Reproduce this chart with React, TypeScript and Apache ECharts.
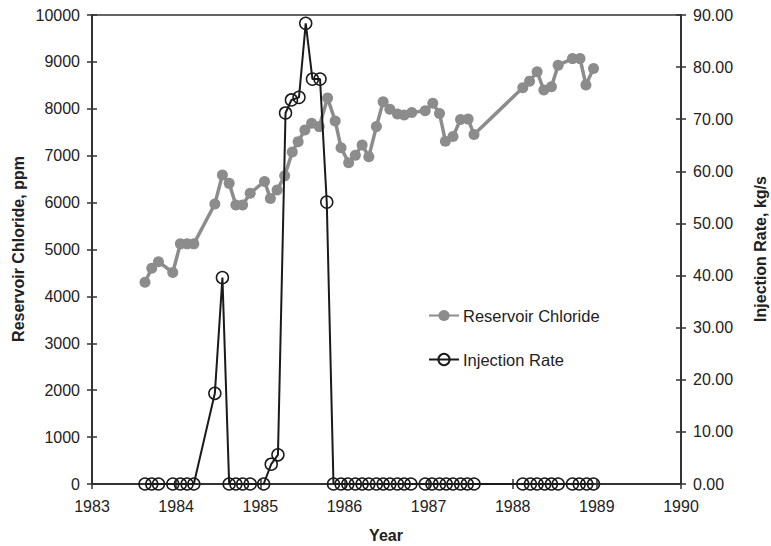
import React, { useEffect, useRef } from "react";
import * as echarts from "echarts";

const chlorideYears = [1983.63, 1983.71, 1983.79, 1983.96, 1984.05, 1984.13, 1984.21, 1984.46, 1984.55, 1984.63, 1984.71, 1984.79, 1984.88, 1985.05, 1985.12, 1985.2, 1985.29, 1985.38, 1985.45, 1985.53, 1985.61, 1985.7, 1985.8, 1985.89, 1985.96, 1986.05, 1986.13, 1986.21, 1986.29, 1986.38, 1986.46, 1986.54, 1986.63, 1986.71, 1986.8, 1986.96, 1987.05, 1987.13, 1987.2, 1987.29, 1987.38, 1987.47, 1987.54, 1988.12, 1988.2, 1988.29, 1988.37, 1988.46, 1988.54, 1988.71, 1988.8, 1988.87, 1988.96];
const chlorideValues = [4300, 4600, 4740, 4510, 5120, 5120, 5120, 5970, 6590, 6410, 5950, 5950, 6200, 6450, 6090, 6270, 6570, 7080, 7300, 7550, 7690, 7620, 8230, 7740, 7170, 6850, 7010, 7230, 6980, 7620, 8150, 7990, 7890, 7870, 7920, 7960, 8120, 7900, 7310, 7410, 7770, 7780, 7450, 8450, 8590, 8790, 8400, 8470, 8930, 9070, 9070, 8510, 8860];

const injectionYears = [1983.63, 1983.71, 1983.79, 1983.96, 1984.05, 1984.13, 1984.21, 1984.46, 1984.55, 1984.63, 1984.71, 1984.79, 1984.88, 1985.04, 1985.13, 1985.21, 1985.3, 1985.37, 1985.46, 1985.54, 1985.62, 1985.71, 1985.79, 1985.87, 1985.96, 1986.04, 1986.13, 1986.21, 1986.29, 1986.38, 1986.46, 1986.54, 1986.63, 1986.71, 1986.79, 1986.96, 1987.04, 1987.13, 1987.21, 1987.29, 1987.38, 1987.46, 1987.54, 1988.12, 1988.21, 1988.29, 1988.38, 1988.46, 1988.54, 1988.71, 1988.79, 1988.88, 1988.96];
const injectionValues = [0, 0, 0, 0, 0, 0, 0, 17.4, 39.6, 0, 0, 0, 0, 0, 3.8, 5.6, 71.2, 73.7, 74.2, 88.4, 77.7, 77.7, 54.1, 0, 0, 0, 0, 0, 0, 0, 0, 0, 0, 0, 0, 0, 0, 0, 0, 0, 0, 0, 0, 0, 0, 0, 0, 0, 0, 0, 0, 0, 0];

const xMin = 1983;
const xMax = 1990;
const leftMax = 10000;
const rightMax = 90;

const FONT = "'Liberation Sans', Arial, sans-serif";
const AXIS_COLOR = "#333";
const TEXT_COLOR = "#222";

export default function App() {
  const ref = useRef<HTMLDivElement>(null);
  useEffect(() => {
    document.body.style.margin = "0";
    if (!ref.current) return;
    const chart = echarts.init(ref.current, null, { renderer: "svg" });
    const lbl = { color: TEXT_COLOR, fontFamily: FONT, fontSize: 16 };
    const tickInside = { show: true, inside: true, length: 5, lineStyle: { color: AXIS_COLOR, width: 1.5 } };
    const tickOutside = { show: true, inside: false, length: 5, lineStyle: { color: AXIS_COLOR, width: 1.5 } };
    chart.setOption({
      animation: false,
      backgroundColor: "#fff",
      textStyle: { fontFamily: FONT },
      grid: {
        left: 92,
        right: 90,
        top: 15,
        bottom: 62,
        show: true,
        borderColor: AXIS_COLOR,
        borderWidth: 1.5,
        backgroundColor: "transparent",
      },
      legend: {
        orient: "vertical",
        left: 423,
        top: 302,
        itemWidth: 30,
        itemHeight: 14,
        itemGap: 27,
        textStyle: { ...lbl, fontSize: 16.5, padding: [0, 0, 0, -1] },
        data: ["Reservoir Chloride", "Injection Rate"],
      },
      xAxis: [
        {
          type: "value",
          min: xMin,
          max: xMax,
          interval: 1,
          axisLine: { show: true, lineStyle: { color: AXIS_COLOR, width: 2 } },
          axisTick: tickOutside,
          axisLabel: { ...lbl, margin: 14, formatter: (v: number) => String(v) },
          splitLine: { show: false },
        },
        {
          type: "value",
          position: "bottom",
          min: xMin,
          max: xMax,
          interval: 1,
          axisLine: { show: false },
          axisTick: tickInside,
          axisLabel: { show: false },
          splitLine: { show: false },
        },
      ],
      yAxis: [
        {
          type: "value",
          position: "left",
          min: 0,
          max: leftMax,
          interval: 1000,
          axisLine: { show: true, lineStyle: { color: AXIS_COLOR, width: 2 } },
          axisTick: tickOutside,
          axisLabel: { ...lbl, margin: 12, formatter: (v: number) => String(v) },
          splitLine: { show: false },
        },
        {
          type: "value",
          position: "right",
          min: 0,
          max: rightMax,
          interval: 10,
          axisLine: { show: true, lineStyle: { color: AXIS_COLOR, width: 2 } },
          axisTick: tickOutside,
          axisLabel: { ...lbl, margin: 12, formatter: (v: number) => v.toFixed(2) },
          splitLine: { show: false },
        },
        {
          type: "value",
          position: "left",
          min: 0,
          max: leftMax,
          interval: 1000,
          axisLine: { show: false },
          axisTick: tickInside,
          axisLabel: { show: false },
          splitLine: { show: false },
        },
        {
          type: "value",
          position: "right",
          min: 0,
          max: rightMax,
          interval: 10,
          axisLine: { show: false },
          axisTick: tickInside,
          axisLabel: { show: false },
          splitLine: { show: false },
        },
      ],
      graphic: [
        {
          type: "text",
          x: 18,
          y: 249,
          rotation: Math.PI / 2,
          style: {
            text: "Reservoir Chloride, ppm",
            fill: TEXT_COLOR,
            font: `bold 16px ${FONT}`,
            textAlign: "center",
            textVerticalAlign: "middle",
          },
        },
        {
          type: "text",
          x: 760,
          y: 249,
          rotation: Math.PI / 2,
          style: {
            text: "Injection Rate, kg/s",
            fill: TEXT_COLOR,
            font: `bold 16px ${FONT}`,
            textAlign: "center",
            textVerticalAlign: "middle",
          },
        },
        {
          type: "text",
          x: 386,
          y: 535,
          style: {
            text: "Year",
            fill: TEXT_COLOR,
            font: `bold 16px ${FONT}`,
            textAlign: "center",
            textVerticalAlign: "middle",
          },
        },
      ],
      series: [
        {
          name: "Reservoir Chloride",
          type: "line",
          xAxisIndex: 0,
          yAxisIndex: 0,
          data: chlorideYears.map((x, i) => [x, chlorideValues[i]]),
          symbol: "circle",
          symbolSize: 11,
          lineStyle: { color: "#8c8c8c", width: 3.5 },
          itemStyle: { color: "#8c8c8c" },
          z: 2,
        },
        {
          name: "Injection Rate",
          type: "line",
          xAxisIndex: 0,
          yAxisIndex: 1,
          data: injectionYears.map((x, i) => [x, injectionValues[i]]),
          symbol: "circle",
          symbolSize: 12,
          lineStyle: { color: "#1a1a1a", width: 2 },
          itemStyle: { color: "rgba(255,255,255,0)", borderColor: "#1a1a1a", borderWidth: 1.5 },
          z: 3,
        },
      ],
    });
    return () => chart.dispose();
  }, []);
  return <div ref={ref} style={{ width: 771, height: 546 }} />;
}
